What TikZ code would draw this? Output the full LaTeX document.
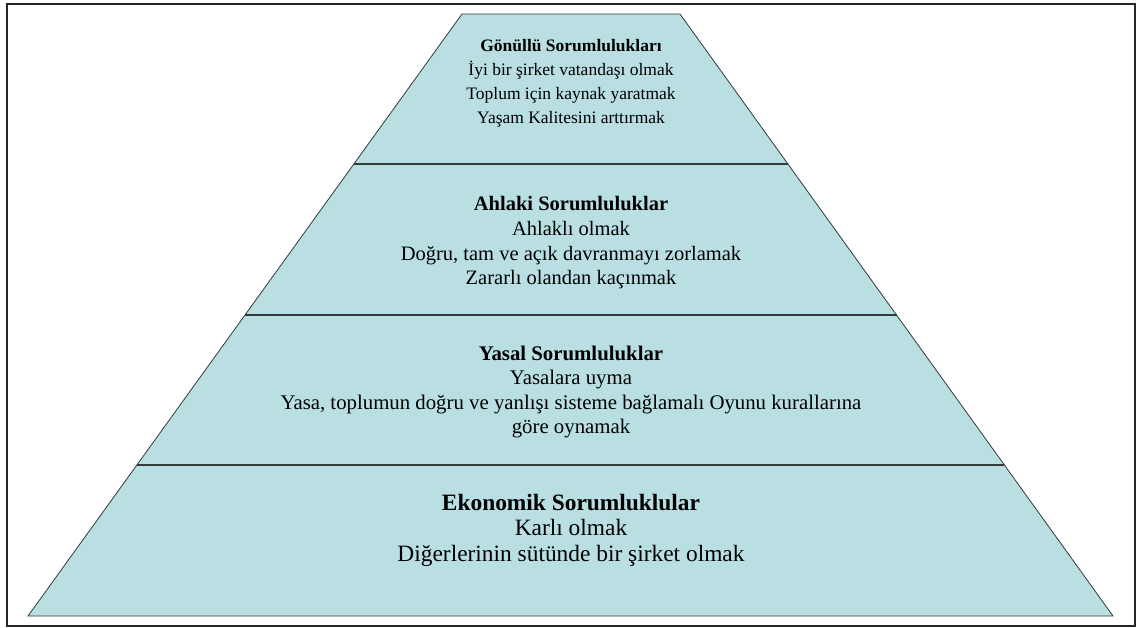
\documentclass[tikz,border=0pt]{standalone}
\usepackage{fontspec}
\setmainfont{Liberation Serif}
\newfontfamily\layerfont{Liberation Serif}
\usetikzlibrary{calc}
\definecolor{layerfill}{RGB}{185,223,227}
\definecolor{layerline}{RGB}{50,58,58}
\begin{document}
\begin{tikzpicture}[x=1pt,y=-1pt,
  layer/.style={fill=layerfill,draw=layerline,line width=0.8pt,line join=miter},
  divider/.style={draw=layerline,line width=1.8pt},
  frame/.style={draw=black!85,line width=2pt},
  label/.style={align=center,inner sep=0pt,text=black}]
\useasboundingbox (0,0) rectangle (1141,627);
% outer frame
\draw[frame] (7,3.5) rectangle (1135,625.5);
% pyramid outline
\coordinate (bl) at (28,616);
\coordinate (br) at (1113,616);
\coordinate (tr) at (680,14);
\coordinate (tl) at (462,14);
\path[layer] (bl) -- (br) -- (tr) -- (tl) -- cycle;
% level dividers
\coordinate (l1) at ($(bl)!0.2508!(tl)$);
\coordinate (r1) at ($(br)!0.2508!(tr)$);
\coordinate (l2) at ($(bl)!0.5!(tl)$);
\coordinate (r2) at ($(br)!0.5!(tr)$);
\coordinate (l3) at ($(bl)!0.7508!(tl)$);
\coordinate (r3) at ($(br)!0.7508!(tr)$);
\draw[divider] (l1) -- (r1);
\draw[divider] (l2) -- (r2);
\draw[divider] (l3) -- (r3);
% level texts
\node[label,font=\layerfont\fontsize{17.5}{24}\selectfont] (voluntary) at (571,83)
  {\textbf{Gönüllü Sorumlulukları}\\İyi bir şirket vatandaşı olmak\\Toplum için kaynak yaratmak\\Yaşam Kalitesini arttırmak};
\node[label,font=\layerfont\fontsize{20.5}{24.7}\selectfont] (ethical) at (571,243)
  {\textbf{Ahlaki Sorumluluklar}\\Ahlaklı olmak\\Doğru, tam ve açık davranmayı zorlamak\\Zararlı olandan kaçınmak};
\node[label,font=\layerfont\fontsize{20.8}{24.5}\selectfont] (legal) at (571,392)
  {\textbf{Yasal Sorumluluklar}\\Yasalara uyma\\Yasa, toplumun doğru ve yanlışı sisteme bağlamalı Oyunu kurallarına\\göre oynamak};
\node[label,font=\layerfont\fontsize{23.4}{25.5}\selectfont] (economic) at (571,530)
  {\textbf{Ekonomik Sorumluklular}\\Karlı olmak\\Diğerlerinin sütünde bir şirket olmak};
\end{tikzpicture}
\end{document}
